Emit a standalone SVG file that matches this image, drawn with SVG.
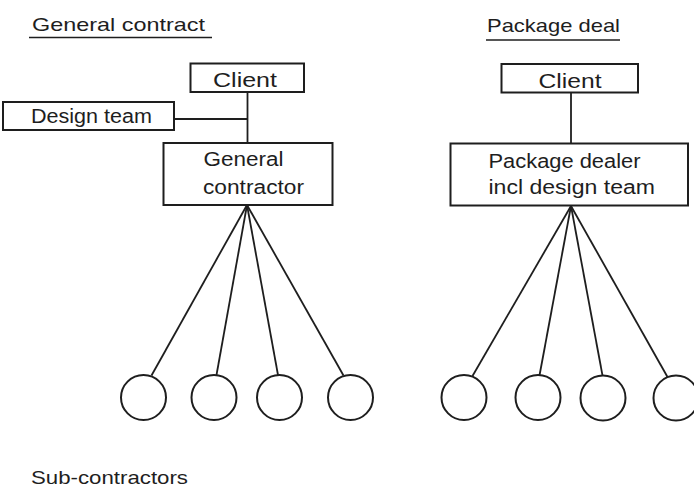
<svg xmlns="http://www.w3.org/2000/svg" width="694" height="487" viewBox="0 0 694 487">
  <style>
    .box { fill: #ffffff; stroke: #1e1e1e; stroke-width: 2; }
    .sub { fill: none; stroke: #1e1e1e; stroke-width: 2; }
    .link { fill: none; stroke: #1e1e1e; stroke-width: 1.8; }
    .rule { stroke: #1e1e1e; stroke-width: 1.6; }
    text { font-family: "Liberation Sans", "DejaVu Sans", sans-serif; fill: #1e1e1e; }
    .title { font-size: 19px; }
    .lbl { font-size: 20px; }
  </style>
  <rect width="694" height="487" fill="#ffffff"/>

  <!-- headings -->
  <text class="title" x="32" y="31" textLength="173" lengthAdjust="spacingAndGlyphs">General contract</text>
  <line class="rule" x1="29" y1="37.5" x2="212" y2="37.5"/>
  <text class="title" x="487" y="32" textLength="133" lengthAdjust="spacingAndGlyphs">Package deal</text>
  <line class="rule" x1="486" y1="40" x2="620" y2="40"/>

  <!-- connectors -->
  <g id="connectors">
    <!-- general contract -->
    <line class="link" x1="247.5" y1="92" x2="247.5" y2="143"/>
    <line class="link" x1="174" y1="119" x2="247.5" y2="119"/>
    <line class="link" x1="247" y1="205" x2="151.5" y2="375.5"/>
    <line class="link" x1="247" y1="205" x2="216.5" y2="375"/>
    <line class="link" x1="247" y1="205" x2="278" y2="375"/>
    <line class="link" x1="247" y1="205" x2="343.5" y2="375.5"/>
    <!-- package deal -->
    <line class="link" x1="571" y1="93" x2="571" y2="143"/>
    <line class="link" x1="571" y1="206" x2="472.5" y2="376"/>
    <line class="link" x1="571" y1="206" x2="539.5" y2="375.5"/>
    <line class="link" x1="571" y1="206" x2="602.5" y2="375.5"/>
    <line class="link" x1="571" y1="206" x2="667.5" y2="377"/>
  </g>

  <!-- general contract nodes -->
  <g id="gc-client">
    <rect class="box" x="190.5" y="63.5" width="113.5" height="28.5"/>
    <text class="lbl" x="213" y="86.5" textLength="64" lengthAdjust="spacingAndGlyphs">Client</text>
  </g>
  <g id="gc-design-team">
    <rect class="box" x="3" y="102" width="171" height="28"/>
    <text class="lbl" x="31" y="122.5" textLength="121" lengthAdjust="spacingAndGlyphs">Design team</text>
  </g>
  <g id="gc-general-contractor">
    <rect class="box" x="163.5" y="143" width="169" height="62"/>
    <text class="lbl" x="203.5" y="166" textLength="80" lengthAdjust="spacingAndGlyphs">General</text>
    <text class="lbl" x="203" y="193.5" textLength="101" lengthAdjust="spacingAndGlyphs">contractor</text>
  </g>
  <g id="gc-sub-1"><circle class="sub" cx="143.5" cy="397.5" r="22.5"/></g>
  <g id="gc-sub-2"><circle class="sub" cx="214" cy="397.5" r="22.5"/></g>
  <g id="gc-sub-3"><circle class="sub" cx="279.5" cy="397.5" r="22.5"/></g>
  <g id="gc-sub-4"><circle class="sub" cx="350.5" cy="397.5" r="22.5"/></g>

  <!-- package deal nodes -->
  <g id="pd-client">
    <rect class="box" x="501.5" y="64" width="136.5" height="28.5"/>
    <text class="lbl" x="538.5" y="88" textLength="63" lengthAdjust="spacingAndGlyphs">Client</text>
  </g>
  <g id="pd-package-dealer">
    <rect class="box" x="450.5" y="143.5" width="237.5" height="62"/>
    <text class="lbl" x="488.5" y="167.5" textLength="152" lengthAdjust="spacingAndGlyphs">Package dealer</text>
    <text class="lbl" x="488.5" y="193.5" textLength="166.5" lengthAdjust="spacingAndGlyphs">incl design team</text>
  </g>
  <g id="pd-sub-1"><circle class="sub" cx="464" cy="397.5" r="22.5"/></g>
  <g id="pd-sub-2"><circle class="sub" cx="538" cy="397.5" r="22.5"/></g>
  <g id="pd-sub-3"><circle class="sub" cx="603" cy="398" r="22.5"/></g>
  <g id="pd-sub-4"><circle class="sub" cx="676" cy="398" r="22.5"/></g>

  <!-- caption -->
  <text class="title" x="31" y="484" textLength="157" lengthAdjust="spacingAndGlyphs">Sub-contractors</text>
</svg>
